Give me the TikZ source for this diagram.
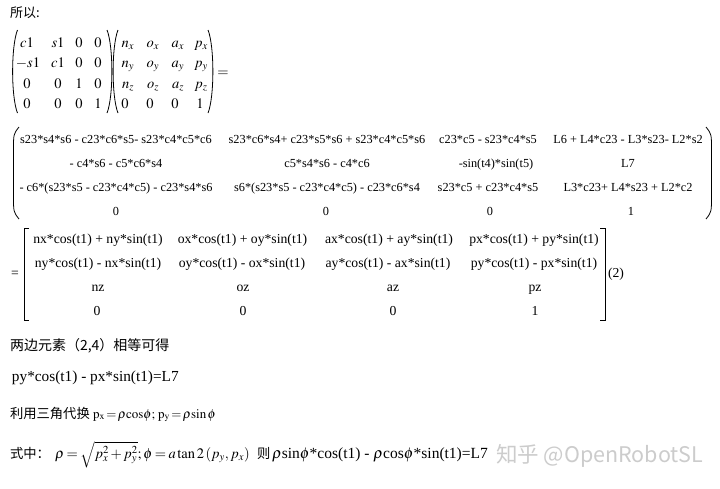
\documentclass[tikz,border=0pt]{standalone}
\usepackage{mathptmx}
\usepackage[no-math]{fontspec}
\setmainfont{Liberation Serif}
\newfontfamily\cjk{Noto Sans CJK SC}
\tikzset{
  every node/.style={inner sep=0pt, outer sep=0pt},
  mA/.style={font=\fontsize{14.5}{16}\selectfont, anchor=base},
  mB/.style={font=\fontsize{12.3}{14}\selectfont, anchor=base},
  mC/.style={font=\fontsize{13.7}{15}\selectfont, anchor=base},
  cn/.style={font=\fontsize{13.3}{15}\cjk, anchor=base west},
  lineL/.style={font=\fontsize{15.3}{17}\selectfont, anchor=base west},
  br/.style={line width=0.8pt},
  wm/.style={font=\fontsize{21.5}{23}\cjk, anchor=base west, text=gray!40},
}
\begin{document}
\begin{tikzpicture}[x=1pt,y=-1pt]
\useasboundingbox (0,0) rectangle (720,488);
\fill[white] (0,0) rectangle (720,488);

% heading
\node[cn, font=\fontsize{13}{15}\cjk] (t0) at (10,17) {所以:};

% ---- matrix 1 ----
\draw[br] (17.5,30) .. controls (11,46) and (11,97) .. (17.5,113);
\draw[br] (107,30) .. controls (113.5,46) and (113.5,97) .. (107,113);
\draw[br] (118,30) .. controls (111.5,46) and (111.5,97) .. (118,113);
\draw[br] (208,30) .. controls (214.5,46) and (214.5,97) .. (208,113);

\node[mA] (a11) at (27,47) {$c1$};
\node[mA] (a12) at (58,47) {$s1$};
\node[mA] (a13) at (79,47) {$0$};
\node[mA] (a14) at (98,47) {$0$};
\node[mA] (a21) at (28,67) {$-s1$};
\node[mA] (a22) at (58,67) {$c1$};
\node[mA] (a23) at (79,67) {$0$};
\node[mA] (a24) at (98,67) {$0$};
\node[mA] (a31) at (27,88) {$0$};
\node[mA] (a32) at (58,88) {$0$};
\node[mA] (a33) at (79,88) {$1$};
\node[mA] (a34) at (98,88) {$0$};
\node[mA] (a41) at (27,108) {$0$};
\node[mA] (a42) at (58,108) {$0$};
\node[mA] (a43) at (79,108) {$0$};
\node[mA] (a44) at (98,108) {$1$};

\node[mA] (b11) at (128,47) {$n_x$};
\node[mA] (b12) at (153,47) {$o_x$};
\node[mA] (b13) at (178,47) {$a_x$};
\node[mA] (b14) at (201,47) {$p_x$};
\node[mA] (b21) at (128,67) {$n_y$};
\node[mA] (b22) at (153,67) {$o_y$};
\node[mA] (b23) at (178,67) {$a_y$};
\node[mA] (b24) at (201,67) {$p_y$};
\node[mA] (b31) at (128,88) {$n_z$};
\node[mA] (b32) at (153,88) {$o_z$};
\node[mA] (b33) at (178,88) {$a_z$};
\node[mA] (b34) at (201,88) {$p_z$};
\node[mA] (b41) at (125,108) {$0$};
\node[mA] (b42) at (150,108) {$0$};
\node[mA] (b43) at (175,108) {$0$};
\node[mA] (b44) at (200,108) {$1$};
\node[mA] (eq1) at (223,76) {$=$};

% ---- matrix 2 ----
\draw[br] (19,127) .. controls (13.5,134) .. (13.5,150) -- (13.5,196) .. controls (13.5,212) .. (19,219);
\draw[br] (706,127) .. controls (711.5,134) .. (711.5,150) -- (711.5,196) .. controls (711.5,212) .. (706,219);

\node[mB] (c11) at (116,143) {s23*s4*s6 - c23*c6*s5- s23*c4*c5*c6};
\node[mB] (c12) at (327,143) {s23*c6*s4+ c23*s5*s6 + s23*c4*c5*s6};
\node[mB] (c13) at (488,143) {c23*c5 - s23*c4*s5};
\node[mB] (c14) at (628,143) {L6 + L4*c23 - L3*s23- L2*s2};
\node[mB] (c21) at (116,167) {- c4*s6 - c5*c6*s4};
\node[mB] (c22) at (327,167) {c5*s4*s6 - c4*c6};
\node[mB] (c23) at (496,167) {-sin(t4)*sin(t5)};
\node[mB] (c24) at (628,167) {L7};
\node[mB] (c31) at (116,191) {- c6*(s23*s5 - c23*c4*c5) - c23*s4*s6};
\node[mB] (c32) at (327,191) {s6*(s23*s5 - c23*c4*c5) - c23*c6*s4};
\node[mB] (c33) at (488,191) {s23*c5 + c23*c4*s5};
\node[mB] (c34) at (628,191) {L3*c23+ L4*s23 + L2*c2};
\node[mB] (c41) at (116,215) {0};
\node[mB] (c42) at (326,215) {0};
\node[mB] (c43) at (490,215) {0};
\node[mB] (c44) at (631,215) {1};

% ---- matrix 3 ----
\node[mC] (eq2) at (15,277) {=};
\draw[br] (29,228) -- (24,228) -- (24,320) -- (29,320);
\draw[br] (600,228) -- (605,228) -- (605,320) -- (600,320);
\node[mC, anchor=base west] (lab2) at (608,277.5) {(2)};

\node[mC] (d11) at (98,243) {nx*cos(t1) + ny*sin(t1)};
\node[mC] (d12) at (242.5,243) {ox*cos(t1) + oy*sin(t1)};
\node[mC] (d13) at (389,243) {ax*cos(t1) + ay*sin(t1)};
\node[mC] (d14) at (534,243) {px*cos(t1) + py*sin(t1)};
\node[mC] (d21) at (98,267) {ny*cos(t1) - nx*sin(t1)};
\node[mC] (d22) at (242,267) {oy*cos(t1) - ox*sin(t1)};
\node[mC] (d23) at (388,267) {ay*cos(t1) - ax*sin(t1)};
\node[mC] (d24) at (534,267) {py*cos(t1) - px*sin(t1)};
\node[mC] (d31) at (98,291) {nz};
\node[mC] (d32) at (243,291) {oz};
\node[mC] (d33) at (393,291) {az};
\node[mC] (d34) at (535,291) {pz};
\node[mC] (d41) at (97,315) {0};
\node[mC] (d42) at (243,315) {0};
\node[mC] (d43) at (393,315) {0};
\node[mC] (d44) at (535,315) {1};

% ---- text below ----
\node[cn, font=\fontsize{14}{16}\cjk] (t1) at (10,350) {两边元素（2,4）相等可得};
\node[lineL] (t2) at (12,381) {py*cos(t1) - px*sin(t1)=L7};
\node[cn] (t3) at (10,418) {利用三角代换};
\node[anchor=base west, font=\fontsize{13}{15}\selectfont] (t3m) at (93,418)
  {$\mathrm{p}_{\mathrm{x}}\!=\!\rho\mathrm{cos}\phi;\,\mathrm{p}_{\mathrm{y}}\!=\!\rho\mathrm{sin}\,\phi$};
\node[cn] (t4) at (10,458) {式中：};
\node[anchor=base west, font=\fontsize{14.5}{17}\selectfont] (t4m) at (55,458)
  {\medmuskip=2mu\thickmuskip=3mu$\rho=\sqrt{p_x^2+p_y^2};\phi=a\tan2\left(p_y,p_x\right)$};
\node[cn] (t5) at (257,458) {则};
\node[anchor=base west, font=\fontsize{15.5}{17}\selectfont] (t6) at (272,458)
  {$\rho$sin$\phi$*cos(t1) - $\rho$cos$\phi$*sin(t1)=L7};
\node[wm] (wm) at (496,462) {知乎 @OpenRobotSL};
\end{tikzpicture}
\end{document}
